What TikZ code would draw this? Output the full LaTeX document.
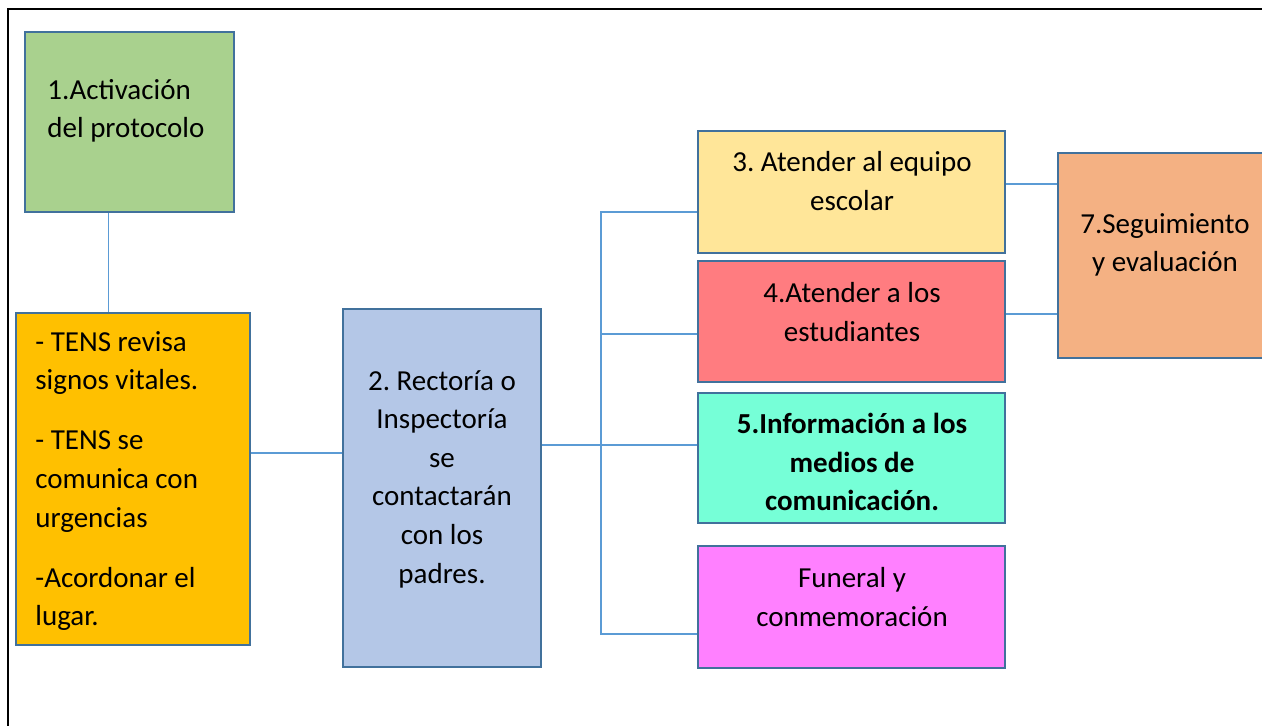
\documentclass[tikz,border=0pt]{standalone}
\usepackage{fontspec}
\setmainfont{Carlito}
\usetikzlibrary{
  calc,
  positioning
}
\frenchspacing
\definecolor{borde}{HTML}{41719C}
\definecolor{conector}{HTML}{5B9BD5}
\definecolor{verde}{HTML}{A9D18E}
\definecolor{naranja}{HTML}{FFC000}
\definecolor{azul}{HTML}{B4C7E7}
\definecolor{amarillo}{HTML}{FFE699}
\definecolor{rojo}{HTML}{FF7C80}
\definecolor{aqua}{HTML}{76FFD7}
\definecolor{magenta}{HTML}{FF80FF}
\definecolor{salmon}{HTML}{F4B183}
\tikzset{
  caja/.style={draw=borde, line width=1.3pt, inner sep=0pt},
  texto/.style={font=\fontsize{14.5pt}{19.3pt}\selectfont, inner sep=0pt, align=center},
  linea/.style={draw=conector, line width=0.7pt}
}

\begin{document}
\begin{tikzpicture}[x=0.5pt,y=-0.5pt]
    %initialisation
    \useasboundingbox (0,0) rectangle (1262,726);
    \draw[line width=1pt] (8,730) -- (8,9) -- (1270,9);
    %boxes
    \node[caja,fill=verde,minimum width=104.5pt,minimum height=90pt] (Act) at (129.5,122) {};
    \node[caja,fill=naranja,minimum width=117pt,minimum height=166pt] (Tens) at (133,479) {};
    \node[caja,fill=azul,minimum width=99pt,minimum height=179pt] (Rec) at (442,488) {};
    \node[caja,fill=amarillo,minimum width=153.5pt,minimum height=61pt] (Equ) at (851.5,192) {};
    \node[caja,fill=rojo,minimum width=153.5pt,minimum height=60.5pt] (Est) at (851.5,321.5) {};
    \node[caja,fill=aqua,minimum width=153.5pt,minimum height=65pt] (Med) at (851.5,458) {};
    \node[caja,fill=magenta,minimum width=153.5pt,minimum height=61pt] (Fun) at (851.5,607) {};
    \node[caja,fill=salmon,minimum width=107pt,minimum height=102.5pt] (Seg) at (1165,255.5) {};
    %texts
    \node[texto,align=left,anchor=west] (tAct) at (47,111) {1.Activación\\del protocolo};
    \node[texto,align=left,anchor=west] (tTens) at (35,481) {- TENS revisa\\signos vitales.\\[10.75pt]- TENS se\\comunica con\\urgencias\\[10.75pt]-Acordonar el\\lugar.};
    \node[texto] (tRec) at (442,479) {2. Rectoría o\\Inspectoría\\se\\contactarán\\con los\\padres.};
    \node[texto] (tEqu) at (852,181) {3. Atender al equipo\\escolar};
    \node[texto] (tEst) at (852,312) {4.Atender a los\\estudiantes};
    \node[texto,font=\fontsize{14.5pt}{19.3pt}\selectfont\bfseries] (tMed) at (852,462) {5.Información a los\\medios de\\comunicación.};
    \node[texto] (tFun) at (852,597) {Funeral y\\conmemoración};
    \node[texto] (tSeg) at (1165,245) {7.Seguimiento\\y evaluación};
    %connectors
    \coordinate (c1) at ($(Act.south)+(-21,0)$);
    \draw[linea] (c1) -- (c1 |- Tens.north);
    \coordinate (c2) at ($(Tens.east)+(0,-26)$);
    \draw[linea] (c2) -- (c2 -| Rec.west);
    \coordinate (bus) at (601,445);
    \draw[linea] (Rec.east |- bus) -- (Med.west |- bus);
    \coordinate (r3) at ($(Equ.west)+(0,20)$);
    \coordinate (r4) at ($(Est.west)+(0,12.5)$);
    \coordinate (rf) at ($(Fun.west)+(0,27)$);
    \draw[linea] (r3) -| (bus |- rf) -- (rf);
    \draw[linea] (r4) -- (r4 -| bus);
    \coordinate (s3) at ($(Equ.east)+(0,-8)$);
    \coordinate (s4) at ($(Est.east)+(0,-7.5)$);
    \draw[linea] (s3) -- (s3 -| Seg.west);
    \draw[linea] (s4) -- (s4 -| Seg.west);
\end{tikzpicture}
\end{document}
